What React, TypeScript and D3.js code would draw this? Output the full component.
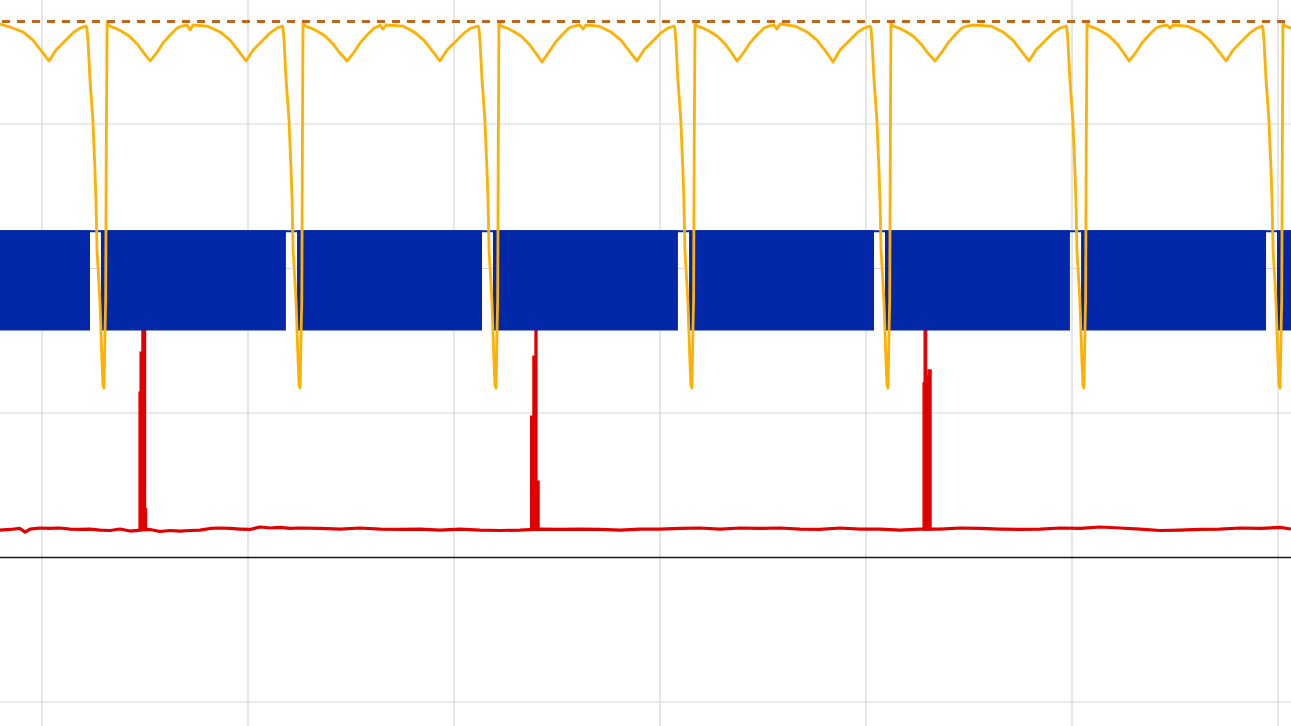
import { useEffect, useRef } from 'react';
import * as d3 from 'd3';

type Pt = [number, number];

const WIDTH = 1291;
const HEIGHT = 726;

// scope grid: 1 ms/div horizontally, 1 V/div vertically
const timeGrid = [0, 1, 2, 3, 4, 5, 6];
const voltGrid = [-1, 1, 2, 3];

// dashed reference level (V)
const refLevel = 3.71;

// yellow trace: rising edges (ms)
const yellowEdges = [-0.636, 0.316, 1.267, 2.218, 3.17, 4.121, 5.073, 6.024];

// shape right after each rising edge [dt ms, V]
const yellowRise: Pt[] = [
  [0, 3.706], [0.01, 3.678], [0.039, 3.664], [0.068, 3.644], [0.107, 3.609], [0.146, 3.554], [0.175, 3.498],
];

// falling edge + undershoot before the next rising edge [dt ms, V]
const yellowFall: Pt[] = [
  [0.85, 3.678], [0.854, 3.664], [0.859, 3.581], [0.869, 3.304], [0.883, 3.028], [0.893, 2.682],
  [0.898, 2.474], [0.903, 2.128], [0.917, 1.782], [0.922, 1.574], [0.927, 1.367], [0.932, 1.194],
  [0.937, 1.173], [0.942, 1.574], [0.945, 1.782], [0.948, 2.82],
];

// the two ripple dips of every cycle [dt ms, V]
const yellowMid: Pt[][] = [
  [
    [0.398, 3.692], [0.432, 3.692], [0.481, 3.671], [0.544, 3.637], [0.592, 3.581], [0.641, 3.491],
    [0.67, 3.436], [0.704, 3.512], [0.752, 3.581], [0.786, 3.63], [0.82, 3.664],
  ],
  [
    [0.209, 3.436], [0.243, 3.498], [0.272, 3.561], [0.306, 3.616], [0.34, 3.664], [0.364, 3.678],
    [0.388, 3.685], [0.403, 3.651], [0.417, 3.685], [0.485, 3.678],
    [0.549, 3.637], [0.597, 3.581], [0.646, 3.491], [0.675, 3.436], [0.709, 3.512], [0.757, 3.581],
    [0.791, 3.63], [0.825, 3.664],
  ],
  [
    [0.214, 3.436], [0.248, 3.498], [0.277, 3.561], [0.311, 3.616], [0.345, 3.664], [0.369, 3.678],
    [0.374, 3.685], [0.388, 3.657], [0.403, 3.685], [0.485, 3.678],
    [0.539, 3.637], [0.587, 3.581], [0.636, 3.491], [0.665, 3.436], [0.699, 3.512], [0.748, 3.581],
    [0.782, 3.63], [0.816, 3.664],
  ],
  [
    [0.209, 3.429], [0.243, 3.498], [0.272, 3.561], [0.306, 3.616], [0.34, 3.664], [0.364, 3.678],
    [0.393, 3.685], [0.408, 3.657], [0.422, 3.685], [0.485, 3.678],
    [0.544, 3.637], [0.592, 3.581], [0.641, 3.491], [0.67, 3.436], [0.704, 3.512], [0.752, 3.581],
    [0.786, 3.63], [0.82, 3.664],
  ],
  [
    [0.204, 3.436], [0.238, 3.498], [0.267, 3.561], [0.301, 3.616], [0.335, 3.664], [0.359, 3.678],
    [0.383, 3.685], [0.398, 3.657], [0.413, 3.692], [0.485, 3.678],
    [0.544, 3.637], [0.592, 3.581], [0.641, 3.491], [0.67, 3.429], [0.704, 3.512], [0.752, 3.581],
    [0.786, 3.63], [0.82, 3.664],
  ],
  [
    [0.214, 3.436], [0.248, 3.498], [0.277, 3.561], [0.311, 3.616], [0.345, 3.664], [0.369, 3.678],
    [0.398, 3.685], [0.485, 3.678],
    [0.544, 3.637], [0.592, 3.581], [0.641, 3.491], [0.67, 3.436], [0.704, 3.512], [0.752, 3.581],
    [0.786, 3.63], [0.82, 3.664],
  ],
  [
    [0.204, 3.436], [0.238, 3.498], [0.267, 3.561], [0.301, 3.616], [0.335, 3.664], [0.359, 3.678],
    [0.388, 3.685], [0.403, 3.664], [0.417, 3.685], [0.485, 3.678],
    [0.549, 3.637], [0.597, 3.581], [0.646, 3.491], [0.675, 3.436], [0.709, 3.512], [0.757, 3.581],
    [0.791, 3.63], [0.825, 3.664],
  ],
  [],
];

// blue trace: PWM bursts [start ms, end ms], switching between low and high
const blueBursts: Pt[] = [
  [-0.25, 0.233], [0.286, 1.184], [1.238, 2.136], [2.189, 3.087],
  [3.141, 4.039], [4.092, 4.99], [5.044, 5.942], [5.995, 6.1],
];
const blueHigh = 2.265;
const blueLow = 1.571;
const blueIdle = 2.258;

// red trace: baseline samples [ms, V]
const redBase: Pt[] = [
  [-0.204, 0.19], [-0.155, 0.194], [-0.107, 0.201], [-0.082, 0.176], [-0.058, 0.197], [-0.01, 0.204],
  [0.039, 0.201], [0.087, 0.204], [0.136, 0.197], [0.184, 0.194], [0.233, 0.197], [0.282, 0.19],
  [0.33, 0.187], [0.379, 0.197], [0.427, 0.183], [0.476, 0.19], [0.524, 0.194], [0.573, 0.18],
  [0.621, 0.187], [0.67, 0.183], [0.718, 0.187], [0.767, 0.19], [0.816, 0.201], [0.864, 0.204],
  [0.913, 0.201], [0.961, 0.197], [1.01, 0.194], [1.058, 0.211], [1.107, 0.204], [1.155, 0.208],
  [1.204, 0.201], [1.252, 0.204], [1.35, 0.201], [1.447, 0.197],
  [1.544, 0.204], [1.641, 0.197], [1.738, 0.194], [1.835, 0.197], [1.932, 0.19], [2.029, 0.197],
  [2.126, 0.19], [2.223, 0.187], [2.32, 0.19], [2.417, 0.197], [2.515, 0.194], [2.612, 0.197],
  [2.709, 0.194], [2.806, 0.19], [2.903, 0.197], [3.0, 0.197], [3.097, 0.201], [3.194, 0.204],
  [3.291, 0.197], [3.388, 0.204], [3.485, 0.201], [3.583, 0.204], [3.68, 0.197], [3.777, 0.194],
  [3.874, 0.204], [3.971, 0.197], [4.068, 0.197], [4.165, 0.19], [4.262, 0.197], [4.359, 0.197],
  [4.456, 0.204], [4.553, 0.201], [4.65, 0.197], [4.748, 0.194], [4.845, 0.197], [4.942, 0.204],
  [5.039, 0.201], [5.136, 0.211], [5.233, 0.204], [5.33, 0.197], [5.427, 0.187], [5.524, 0.19],
  [5.621, 0.194], [5.718, 0.197], [5.816, 0.204], [5.913, 0.201], [6.01, 0.208], [6.063, 0.197],
];
const redFloor = 0.19;

// red current pulses (step samples) [ms, V]
const redSpikes: Pt[][] = [
  [[0.471, 1.145], [0.476, 1.422], [0.485, 1.7], [0.503, 0.336], [0.508, 0.197]],
  [[2.372, 0.979], [2.383, 1.394], [2.393, 1.7], [2.403, 0.529], [2.413, 0.197]],
  [[4.277, 1.208], [4.282, 1.7], [4.295, 1.256], [4.302, 1.298], [4.316, 0.197]],
];

export default function App() {
  const svgRef = useRef<SVGSVGElement>(null);

  useEffect(() => {
    if (!svgRef.current) return;
    document.body.style.margin = '0';

    const svg = d3.select(svgRef.current);
    svg.selectAll('*').remove();

    const x = d3.scaleLinear().domain([0, 6]).range([42, 1278]);
    const y = d3.scaleLinear().domain([0, 3]).range([557.5, 124]);

    const g = svg.append('g');

    // Grid
    g.selectAll('line.vgrid')
      .data(timeGrid)
      .join('line')
      .attr('class', 'vgrid')
      .attr('x1', (d) => x(d)).attr('x2', (d) => x(d))
      .attr('y1', 0).attr('y2', HEIGHT)
      .attr('stroke', '#d6d6d6')
      .attr('stroke-width', 1.2);

    g.selectAll('line.hgrid')
      .data(voltGrid)
      .join('line')
      .attr('class', 'hgrid')
      .attr('x1', 0).attr('x2', WIDTH)
      .attr('y1', (d) => y(d)).attr('y2', (d) => y(d))
      .attr('stroke', '#d6d6d6')
      .attr('stroke-width', 1.2);

    // Zero line
    g.append('line')
      .attr('x1', 0).attr('x2', WIDTH)
      .attr('y1', y(0)).attr('y2', y(0))
      .attr('stroke', '#1a1a1a')
      .attr('stroke-width', 1.3);

    // Red trace
    const line = d3.line<Pt>().x((d) => x(d[0])).y((d) => y(d[1]));

    const spikeArea = d3.area<Pt>()
      .x((d) => x(d[0]))
      .y0(y(redFloor))
      .y1((d) => y(d[1]))
      .curve(d3.curveStepAfter);

    redSpikes.forEach((s) => {
      g.append('path')
        .attr('d', spikeArea(s) as string)
        .attr('fill', '#e00000')
        .attr('stroke', '#e00000')
        .attr('stroke-width', 1.2);
    });

    g.append('path')
      .attr('d', line(redBase) as string)
      .attr('fill', 'none')
      .attr('stroke', '#e00000')
      .attr('stroke-width', 3.2)
      .attr('stroke-linejoin', 'round');

    // Blue trace
    g.append('line')
      .attr('x1', x(blueBursts[0][0])).attr('x2', x(blueBursts[blueBursts.length - 1][1]))
      .attr('y1', y(blueIdle)).attr('y2', y(blueIdle))
      .attr('stroke', '#0228a9')
      .attr('stroke-width', 2);

    const burstArea = d3.area<number>()
      .x((d) => x(d))
      .y0(y(blueLow))
      .y1(y(blueHigh));

    blueBursts.forEach((b) => {
      g.append('path')
        .attr('d', burstArea(b) as string)
        .attr('fill', '#0228a9');
    });

    // Yellow trace
    const yellowPts: Pt[] = [];
    yellowEdges.forEach((edge, i) => {
      const pts = [
        ...(i > 0 ? yellowRise : []),
        ...yellowMid[i],
        ...(i < yellowEdges.length - 1 ? yellowFall : []),
      ];
      pts.forEach(([dt, v]) => yellowPts.push([edge + dt, v]));
    });

    g.append('path')
      .attr('d', line(yellowPts) as string)
      .attr('fill', 'none')
      .attr('stroke', '#ffb000')
      .attr('stroke-width', 2.8)
      .attr('stroke-linejoin', 'round');

    // Reference level
    g.append('line')
      .attr('x1', 0).attr('x2', WIDTH)
      .attr('y1', y(refLevel)).attr('y2', y(refLevel))
      .attr('stroke', '#c0651e')
      .attr('stroke-width', 3)
      .attr('stroke-dasharray', '8 7')
      .attr('stroke-dashoffset', -2);
  }, []);

  return (
    <svg
      ref={svgRef}
      width={WIDTH}
      height={HEIGHT}
      style={{ position: 'absolute', left: 0, top: 0, background: '#fff' }}
    />
  );
}
